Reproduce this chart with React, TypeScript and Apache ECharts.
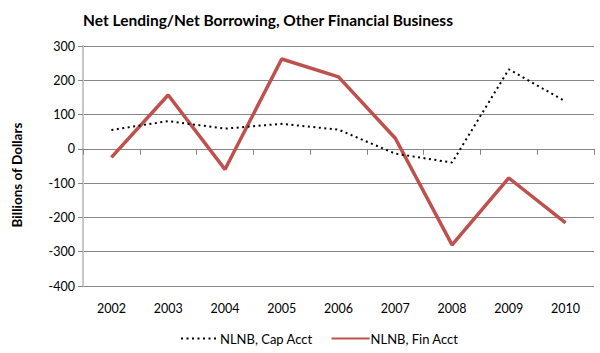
import React, { useEffect, useRef } from "react";
import * as echarts from "echarts";

const years = ["2002", "2003", "2004", "2005", "2006", "2007", "2008", "2009", "2010"];
const capAcct = [55, 81, 59, 73, 56, -14, -40, 232, 138];
const finAcct = [-25, 157, -60, 262, 210, 31, -280, -85, -216];
const yTicks = { min: -400, max: 300, interval: 100 };

const FONT = "Lato";

export default function App() {
  const ref = useRef<HTMLDivElement>(null);
  useEffect(() => {
    const chart = echarts.init(ref.current!, null, { renderer: "svg" });
    chart.setOption({
      animation: false,
      backgroundColor: "#ffffff",
      textStyle: { fontFamily: FONT },
      title: {
        text: "Net Lending/Net Borrowing, Other Financial Business",
        left: 263,
        textAlign: "center",
        top: 7,
        textStyle: { fontFamily: FONT, fontSize: 15.5, fontWeight: "bold", color: "#000" },
      },
      grid: { left: 83, right: 6, top: 46, bottom: 67, containLabel: false },
      legend: {
        bottom: 3,
        left: 175,
        itemGap: 18,
        itemWidth: 38,
        itemHeight: 10,
        itemStyle: { opacity: 0 },
        textStyle: { fontFamily: FONT, fontSize: 13, color: "#000", padding: [0, 0, 0, -4] },
        data: ["NLNB, Cap Acct", "NLNB, Fin Acct"],
      },
      xAxis: [
        {
          type: "category",
          data: years,
          position: "bottom",
          boundaryGap: true,
          axisLine: { show: false, onZero: false },
          axisTick: { show: false },
          axisLabel: { fontFamily: FONT, fontSize: 12.5, color: "#000", margin: 16 },
        },
        {
          type: "category",
          data: years,
          position: "bottom",
          boundaryGap: true,
          axisLine: { show: true, onZero: true, lineStyle: { color: "#868686", width: 1 } },
          axisTick: { show: true, length: 6, lineStyle: { color: "#868686" } },
          axisLabel: { show: false },
        },
      ],
      yAxis: {
        type: "value",
        min: yTicks.min,
        max: yTicks.max,
        interval: yTicks.interval,
        axisLine: { show: true, lineStyle: { color: "#c8c8c8", width: 2 } },
        axisTick: { show: true, length: 5, lineStyle: { color: "#868686" } },
        axisLabel: { fontFamily: FONT, fontSize: 12.5, color: "#000", margin: 8 },
        splitLine: { show: true, lineStyle: { color: "#868686", width: 1 } },
      },
      graphic: [
        {
          type: "text",
          x: 17,
          y: 175,
          rotation: Math.PI / 2,
          style: {
            text: "Billions of Dollars",
            fontFamily: FONT,
            fontSize: 13.5,
            fontWeight: "bold",
            fill: "#000",
            align: "center",
            verticalAlign: "middle",
          },
        },
      ],
      series: [
        {
          name: "NLNB, Cap Acct",
          type: "line",
          data: capAcct,
          symbol: "none",
          lineStyle: { color: "#000", width: 2, type: [2, 3.5], cap: "butt" },
          itemStyle: { color: "#000" },
          z: 3,
        },
        {
          name: "NLNB, Fin Acct",
          type: "line",
          data: finAcct,
          symbol: "none",
          lineStyle: { color: "#c0504d", width: 3.5 },
          itemStyle: { color: "#c0504d" },
          z: 2,
        },
      ],
    });
    return () => chart.dispose();
  }, []);
  return <div ref={ref} style={{ width: 600, height: 353, position: "absolute", left: 0, top: 0 }} />;
}
